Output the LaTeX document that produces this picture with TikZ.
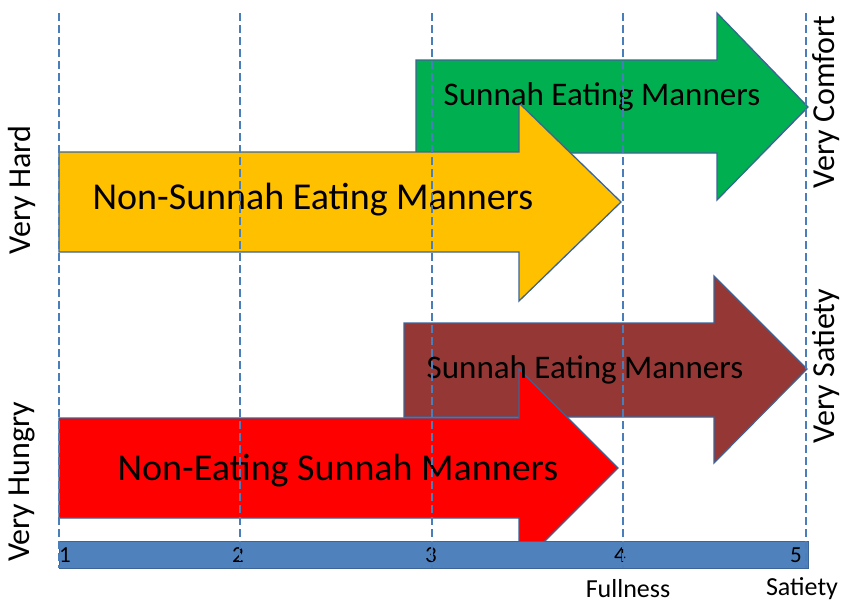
\documentclass[tikz,border=0pt]{standalone}
\usepackage{fontspec}
\setmainfont{Carlito}
\definecolor{edgeblue}{HTML}{3C6496}
\definecolor{barblue}{HTML}{4F81BD}
\definecolor{gridblue}{HTML}{4A7EBB}
\definecolor{comfortgreen}{HTML}{00B050}
\definecolor{hardyellow}{HTML}{FFC000}
\definecolor{satietybrown}{HTML}{953735}
\definecolor{hungryred}{HTML}{FF0000}
\newcommand{\bigtext}{\fontsize{38}{44}\selectfont}
\newcommand{\midtext}{\fontsize{33}{38}\selectfont}
\newcommand{\sidetext}{\fontsize{32}{36}\selectfont}
\newcommand{\axistext}{\fontsize{26}{30}\selectfont}
\newcommand{\ticktext}{\fontsize{23}{26}\selectfont}
\begin{document}
\begin{tikzpicture}[x=1pt, y=-1pt, every node/.style={inner sep=0pt},
  shapeline/.style={draw=edgeblue, line width=1.3pt, line join=miter},
  gridline/.style={draw=gridblue, line width=2.6pt, dash pattern=on 8pt off 4pt}]
  \useasboundingbox (0,0) rectangle (844,605);
  % upper pair: comfort
  \filldraw[shapeline, fill=comfortgreen] (416,60) -- (717,60) -- (717,13) -- (808,107)
    -- (717,200) -- (717,153) -- (416,153) -- cycle;
  \filldraw[shapeline, fill=hardyellow] (59,152) -- (519,152) -- (519,103) -- (621,202)
    -- (519,301) -- (519,252) -- (59,252) -- cycle;
  \node[font=\midtext] (sunnahtop) at (602,97) {Sunnah Eating Manners};
  \node[font=\bigtext] (nonsunnah) at (313,200) {Non-Sunnah Eating Manners};
  % lower pair: satiety
  \filldraw[shapeline, fill=satietybrown] (404,323) -- (714,323) -- (714,276) -- (807,369)
    -- (714,463) -- (714,417) -- (404,417) -- cycle;
  \filldraw[shapeline, fill=hungryred] (59,418) -- (519,418) -- (519,369) -- (618,468)
    -- (519,567) -- (519,518) -- (59,518) -- cycle;
  \node[font=\midtext] (sunnahbot) at (585,370) {Sunnah Eating Manners};
  \node[font=\bigtext] (noneating) at (338,471) {Non-Eating Sunnah Manners};
  % scale bar
  \filldraw[draw=edgeblue, fill=barblue, line width=1pt] (59,541) rectangle (808,568);
  \node[font=\ticktext] (one) at (65,555) {1};
  \node[font=\ticktext] (two) at (238,555) {2};
  \node[font=\ticktext] (three) at (431,555) {3};
  \node[font=\ticktext] (four) at (620,555) {4};
  \node[font=\ticktext] (five) at (796,555) {5};
  \foreach \x in {59,240,432,623,806}
    \draw[gridline] (\x,13) -- (\x,568);
  % side and axis labels
  \node[font=\sidetext, rotate=90] (hard) at (22,190) {Very Hard};
  \node[font=\sidetext, rotate=90] (hungry) at (22,482) {Very Hungry};
  \node[font=\sidetext, rotate=90] (comfort) at (826,102) {Very Comfort};
  \node[font=\sidetext, rotate=90] (satiety) at (826,366) {Very Satiety};
  \node[font=\axistext] (fullness) at (628,589) {Fullness};
  \node[font=\axistext] (satietyax) at (802,589) {Satiety};
\end{tikzpicture}
\end{document}
